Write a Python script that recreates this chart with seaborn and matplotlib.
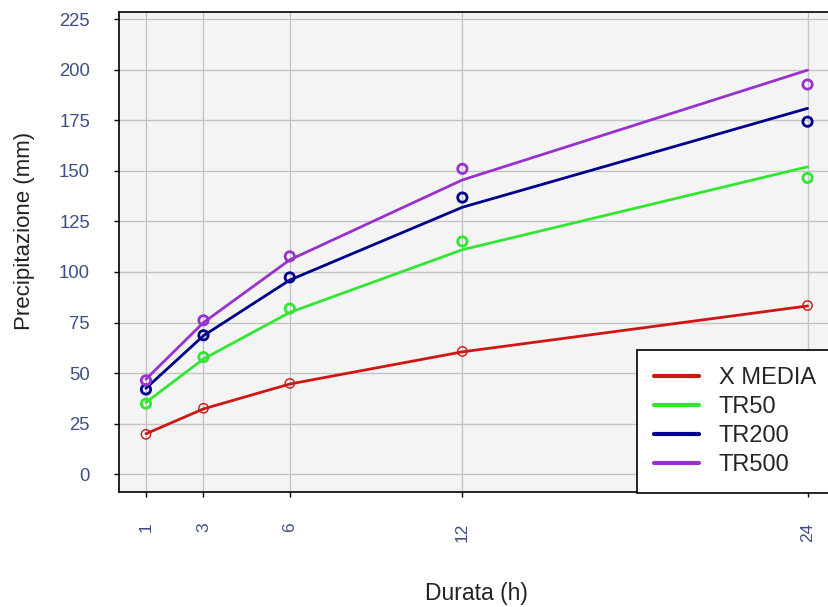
import matplotlib
matplotlib.use("Agg")
import matplotlib.pyplot as plt
import seaborn as sns
import pandas as pd
from matplotlib.lines import Line2D

# ---- data ----
durata = [1, 3, 6, 12, 24]
series = ["X MEDIA", "TR50", "TR200", "TR500"]
xmedia_obs = [19.7, 32.6, 44.9, 60.7, 83.4]
xmedia_fit = [20.0, 32.3, 44.6, 60.5, 83.2]
tr50_obs = [34.9, 57.9, 81.9, 115.1, 146.5]
tr50_fit = [35.5, 57.0, 80.0, 111.0, 152.0]
tr200_obs = [41.9, 68.7, 97.3, 136.8, 174.3]
tr200_fit = [42.5, 68.5, 96.0, 132.0, 180.9]
tr500_obs = [46.4, 76.1, 107.7, 151.0, 192.7]
tr500_fit = [47.0, 75.0, 106.0, 145.5, 199.8]
y_ticks = [0, 25, 50, 75, 100, 125, 150, 175, 200, 225]

obs = {"X MEDIA": xmedia_obs, "TR50": tr50_obs, "TR200": tr200_obs, "TR500": tr500_obs}
fit = {"X MEDIA": xmedia_fit, "TR50": tr50_fit, "TR200": tr200_fit, "TR500": tr500_fit}
colors = {"X MEDIA": "#d01515", "TR50": "#33e633", "TR200": "#00008b", "TR500": "#9932cc"}

rows_fit, rows_obs = [], []
for s in series:
    for d, v in zip(durata, fit[s]):
        rows_fit.append({"Durata": d, "Valore": v, "Serie": s})
    for d, v in zip(durata, obs[s]):
        rows_obs.append({"Durata": d, "Valore": v, "Serie": s})
df_fit = pd.DataFrame(rows_fit)
df_obs = pd.DataFrame(rows_obs)

sns.set_theme(style="white")
plt.rcParams["font.family"] = ["Liberation Sans", "DejaVu Sans"]

fig = plt.figure(figsize=(8.29, 6.07), dpi=100)
fig.patch.set_facecolor("white")
ax = fig.add_axes([119.5 / 829, (607 - 492) / 607, (834 - 119.5) / 829, (492 - 11.5) / 607])
ax.set_facecolor("#f4f4f4")

ax.set_xlim(1 - 0.04 * 23, 24 + 0.04 * 23)
ax.set_ylim(-8.8, 228.8)
ax.set_xticks(durata)
ax.set_xticklabels([str(d) for d in durata], rotation=90)
ax.set_yticks(y_ticks)
ax.grid(True, color="#c4c4c4", linewidth=1.0)
ax.set_axisbelow(True)

sns.lineplot(data=df_fit, x="Durata", y="Valore", hue="Serie", palette=colors,
             hue_order=series, linewidth=2.0, ax=ax, legend=False, zorder=3)
for s in series:
    sub = df_obs[df_obs["Serie"] == s]
    lw = 1.0 if s == "X MEDIA" else 2.0
    ax.scatter(sub["Durata"], sub["Valore"], s=45, facecolors="none",
               edgecolors=colors[s], linewidths=lw, zorder=4)

for sp in ax.spines.values():
    sp.set_color("black")
    sp.set_linewidth(1.2)

ax.tick_params(axis="both", which="both", direction="out", length=3.6, width=1,
               color="black", labelcolor="#3d4f85", labelsize=13.3,
               left=True, bottom=True)
ax.tick_params(axis="y", pad=17.6)
ax.tick_params(axis="x", pad=18.4, labelsize=12.5)

ax.set_xlabel("Durata (h)", fontsize=16.5, color="#222222")
ax.set_ylabel("Precipitazione (mm)", fontsize=16, color="#222222")
ax.xaxis.set_label_coords(0.5, (492 - 582) / 480.5)
ax.yaxis.set_label_coords((35 - 119.5) / 714.5, (492 - 231) / 480.5)

handles = [Line2D([0], [0], color=colors[s], linewidth=3) for s in series]
leg = fig.legend(handles, series, loc="upper left",
                 bbox_to_anchor=(637 / 829, (607 - 350) / 607),
                 bbox_transform=fig.transFigure, fontsize=17, frameon=True,
                 fancybox=False, edgecolor="black", facecolor="white", framealpha=1,
                 labelspacing=0.3, handlelength=1.9, handletextpad=0.85,
                 borderpad=0.72, borderaxespad=0)
leg.get_frame().set_linewidth(1.2)

fig.savefig("out.png", dpi=100, facecolor="white")
